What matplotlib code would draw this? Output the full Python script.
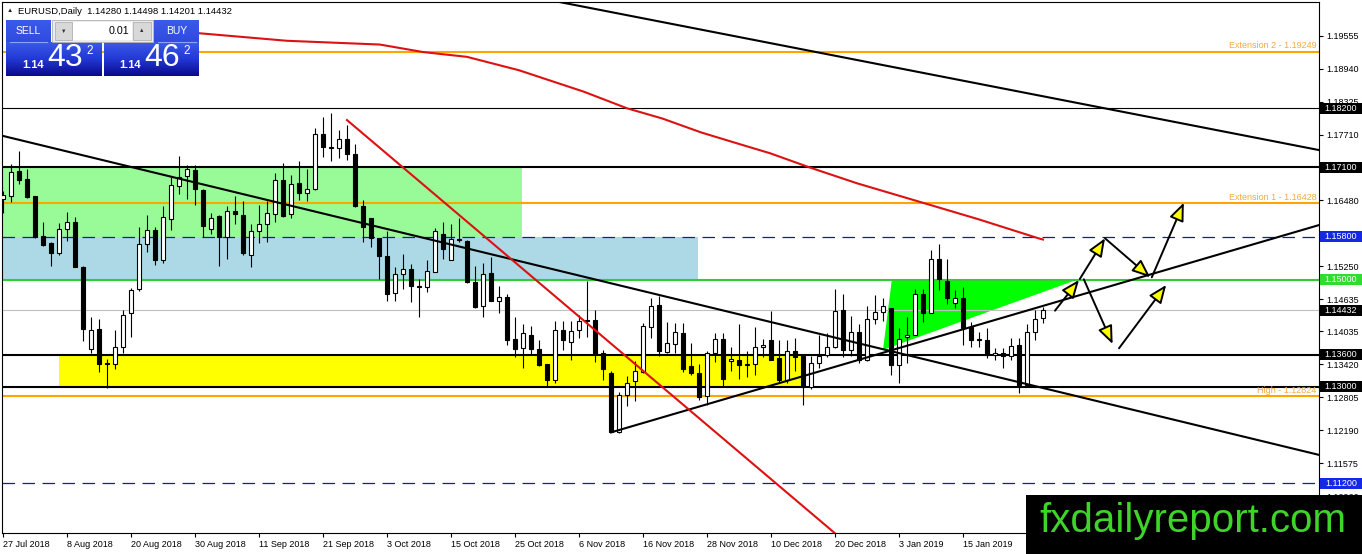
import numpy as np
import matplotlib.pyplot as plt
from matplotlib.patches import Rectangle, Polygon
from matplotlib.colors import LinearSegmentedColormap
import matplotlib.transforms as mtransforms

plt.rcParams['font.family'] = ['Liberation Sans', 'DejaVu Sans']

# daily bars, index 0 = 27 Jul 2018, last = 29 Jan 2019
opens = [1.1650, 1.1656, 1.1703, 1.1688, 1.1656, 1.1581, 1.1568, 1.1549, 1.1594, 1.1608,
         1.1524, 1.1370, 1.1408, 1.1342, 1.1342, 1.1374, 1.1438, 1.1482, 1.1567, 1.1593,
         1.1537, 1.1613, 1.1675, 1.1693, 1.1704, 1.1667, 1.1594, 1.1619, 1.1579, 1.1629,
         1.1620, 1.1546, 1.1590, 1.1604, 1.1623, 1.1687, 1.1622, 1.1681, 1.1662, 1.1669,
         1.1772, 1.1746, 1.1746, 1.1762, 1.1735, 1.1638, 1.1615, 1.1578, 1.1545, 1.1475,
         1.1511, 1.1520, 1.1488, 1.1487, 1.1515, 1.1586, 1.1537, 1.1576, 1.1572, 1.1495,
         1.1450, 1.1512, 1.1461, 1.1467, 1.1389, 1.1372, 1.1397, 1.1370, 1.1343, 1.1312,
         1.1406, 1.1384, 1.1406, 1.1424, 1.1424, 1.1363, 1.1325, 1.1216, 1.1284, 1.1310,
         1.1328, 1.1412, 1.1452, 1.1365, 1.1380, 1.1401, 1.1339, 1.1325, 1.1282, 1.1364,
         1.1390, 1.1349, 1.1351, 1.1341, 1.1343, 1.1374, 1.1388, 1.1353, 1.1313, 1.1367,
         1.1358, 1.1299, 1.1345, 1.1359, 1.1375, 1.1443, 1.1368, 1.1403, 1.1351, 1.1427,
         1.1439, 1.1448, 1.1341, 1.1393, 1.1397, 1.1473, 1.1438, 1.1539, 1.1497, 1.1457,
         1.1465, 1.1412, 1.1390, 1.1388, 1.1360, 1.1364, 1.1358, 1.1378, 1.1303, 1.1403,
         1.14280]
highs = [1.1665, 1.1716, 1.1741, 1.1706, 1.1657, 1.1608, 1.1570, 1.1605, 1.1627, 1.1617,
         1.1525, 1.1430, 1.1426, 1.1352, 1.1407, 1.1443, 1.1484, 1.1599, 1.1621, 1.1599,
         1.1638, 1.1691, 1.1730, 1.1715, 1.1715, 1.1669, 1.1625, 1.1620, 1.1638, 1.1656,
         1.1647, 1.1604, 1.1639, 1.1647, 1.1699, 1.1718, 1.1696, 1.1722, 1.1706, 1.1783,
         1.1803, 1.1811, 1.1780, 1.1789, 1.1753, 1.1648, 1.1616, 1.1578, 1.1591, 1.1523,
         1.1548, 1.1530, 1.1502, 1.1536, 1.1597, 1.1607, 1.1604, 1.1616, 1.1574, 1.1526,
         1.1532, 1.1543, 1.1489, 1.1473, 1.1430, 1.1417, 1.1413, 1.1387, 1.1343, 1.1423,
         1.1423, 1.1423, 1.1434, 1.1498, 1.1444, 1.1369, 1.1329, 1.1291, 1.1320, 1.1348,
         1.1419, 1.1465, 1.1470, 1.1421, 1.1419, 1.1419, 1.1382, 1.1343, 1.1366, 1.1400,
         1.1401, 1.1375, 1.1418, 1.1366, 1.1412, 1.1390, 1.1442, 1.1388, 1.1387, 1.1392,
         1.1358, 1.1357, 1.1396, 1.1400, 1.1482, 1.1473, 1.1433, 1.1418, 1.1451, 1.1471,
         1.1465, 1.1448, 1.1409, 1.1430, 1.1483, 1.1483, 1.1555, 1.1567, 1.1539, 1.1480,
         1.1486, 1.1421, 1.1403, 1.1409, 1.1372, 1.1372, 1.1392, 1.1392, 1.1417, 1.1443,
         1.14498]
lows = [1.1625, 1.1645, 1.1679, 1.1653, 1.1578, 1.1563, 1.1526, 1.1547, 1.1573, 1.1523,
        1.1386, 1.1363, 1.1328, 1.1298, 1.1333, 1.1364, 1.1393, 1.1479, 1.1551, 1.1528,
        1.1532, 1.1593, 1.1660, 1.1650, 1.1640, 1.1580, 1.1586, 1.1526, 1.1539, 1.1604,
        1.1547, 1.1523, 1.1568, 1.1570, 1.1607, 1.1617, 1.1615, 1.1648, 1.1646, 1.1667,
        1.1729, 1.1721, 1.1727, 1.1724, 1.1636, 1.1570, 1.1562, 1.1502, 1.1461, 1.1461,
        1.1483, 1.1458, 1.1430, 1.1477, 1.1514, 1.1539, 1.1537, 1.1570, 1.1493, 1.1448,
        1.1430, 1.1460, 1.1437, 1.1378, 1.1356, 1.1335, 1.1359, 1.1339, 1.1302, 1.1307,
        1.1369, 1.1350, 1.1391, 1.1393, 1.1347, 1.1313, 1.1215, 1.1213, 1.1265, 1.1274,
        1.1326, 1.1392, 1.1358, 1.1363, 1.1363, 1.1327, 1.1322, 1.1275, 1.1266, 1.1347,
        1.1302, 1.1330, 1.1314, 1.1319, 1.1322, 1.1356, 1.1350, 1.1307, 1.1307, 1.1330,
        1.1266, 1.1296, 1.1335, 1.1356, 1.1372, 1.1356, 1.1358, 1.1344, 1.1349, 1.1417,
        1.1423, 1.1322, 1.1308, 1.1344, 1.1396, 1.1421, 1.1437, 1.1481, 1.1455, 1.1448,
        1.1378, 1.1375, 1.1375, 1.1354, 1.1350, 1.1335, 1.1350, 1.1289, 1.1300, 1.1387,
        1.14201]
closes = [1.1658, 1.1701, 1.1687, 1.1655, 1.1580, 1.1565, 1.1549, 1.1594, 1.1608, 1.1524,
          1.1408, 1.1407, 1.1342, 1.1344, 1.1374, 1.1435, 1.1481, 1.1567, 1.1593, 1.1537,
          1.1617, 1.1676, 1.1691, 1.1706, 1.1669, 1.1601, 1.1616, 1.1579, 1.1628, 1.1622,
          1.1550, 1.1591, 1.1604, 1.1624, 1.1687, 1.1619, 1.1679, 1.1662, 1.1669, 1.1772,
          1.1747, 1.1748, 1.1762, 1.1735, 1.1638, 1.1599, 1.1578, 1.1544, 1.1474, 1.1511,
          1.1520, 1.1489, 1.1486, 1.1516, 1.1590, 1.1557, 1.1576, 1.1574, 1.1495, 1.1449,
          1.1511, 1.1461, 1.1467, 1.1387, 1.1370, 1.1400, 1.1370, 1.1341, 1.1313, 1.1406,
          1.1387, 1.1405, 1.1423, 1.1423, 1.1361, 1.1333, 1.1216, 1.1284, 1.1308, 1.1329,
          1.1413, 1.1450, 1.1367, 1.1381, 1.1403, 1.1333, 1.1325, 1.1281, 1.1364, 1.1390,
          1.1314, 1.1352, 1.1341, 1.1342, 1.1374, 1.1378, 1.1351, 1.1313, 1.1366, 1.1356,
          1.1299, 1.1344, 1.1357, 1.1374, 1.1442, 1.1368, 1.1403, 1.1351, 1.1427, 1.1440,
          1.1450, 1.1341, 1.1390, 1.1397, 1.1473, 1.1438, 1.1539, 1.1502, 1.1466, 1.1465,
          1.1409, 1.1388, 1.1388, 1.1360, 1.1364, 1.1357, 1.1377, 1.1303, 1.1403, 1.1426,
          1.14432]

date_ticks = [0, 8, 16, 24, 32, 40, 48, 56, 64, 72, 80, 88, 96, 104, 112, 120]
date_labels = ['27 Jul 2018', '8 Aug 2018', '20 Aug 2018', '30 Aug 2018', '11 Sep 2018',
               '21 Sep 2018', '3 Oct 2018', '15 Oct 2018', '25 Oct 2018', '6 Nov 2018',
               '16 Nov 2018', '28 Nov 2018', '10 Dec 2018', '20 Dec 2018', '3 Jan 2019',
               '15 Jan 2019']
price_ticks = [1.19555, 1.18940, 1.18325, 1.17710, 1.17095, 1.16480, 1.15865, 1.15250,
               1.14635, 1.14035, 1.13420, 1.12805, 1.12190, 1.11575, 1.10960]
# scale labels that sit fully behind a level box on the right scale
hidden_ticks = [1.17095, 1.15865]

# levels drawn on the chart
fib_levels = [1.19249, 1.16428, 1.12824]
fib_names = ['Extension 2', 'Extension 1', 'High']
black_levels = [1.18200, 1.17100, 1.13600, 1.13000]
dashed_levels = [1.15800, 1.11200]
green_level = 1.15000
bid_price = 1.14432

# zones: (first bar, last bar, low price, high price)
green_zone = [-5, 64.9, 1.1580, 1.1710]
blue_zone = [-5, 86.9, 1.1500, 1.1580]
yellow_zone = [7.0, 100.25, 1.1300, 1.1360]
triangle_bars = [111.1, 110.0, 134.25]
triangle_prices = [1.1500, 1.1369, 1.1500]

# trend lines: anchor bars / prices
trend_top_bars = [69.0, 164.5]
trend_top_prices = [1.2020, 1.1742]
trend_down_bars = [-1.0, 164.5]
trend_down_prices = [1.1772, 1.1173]
trend_up_bars = [76.0, 164.5]
trend_up_prices = [1.1215, 1.1602]
red_line_bars = [43.0, 105.0]
red_line_prices = [1.1798, 1.1014]
ma_bars = [24.6, 35.5, 47.1, 52.5, 58.0, 64.5, 68.75, 72.6, 78.0, 82.4, 87.25, 92.1,
           95.9, 100.75, 106.75, 114.9, 121.9, 129.5, 130.0]
ma_prices = [1.1960, 1.1946, 1.1939, 1.1925, 1.1916, 1.1891, 1.1870, 1.1851, 1.1820,
             1.1801, 1.1775, 1.1753, 1.1736, 1.1710, 1.1680, 1.1644, 1.1613, 1.1577, 1.1575]

# projection arrows: start bar, start price, end bar, end price
arrows = [
    (131.5, 1.14422, 134.5, 1.14995),
    (134.6, 1.15013, 137.75, 1.15773),
    (137.75, 1.15773, 143.4, 1.15045),
    (143.6, 1.15045, 147.6, 1.16438),
    (135.1, 1.15008, 138.7, 1.13800),
    (139.5, 1.13720, 145.4, 1.14902),
]

W, H = 1362, 554
fig = plt.figure(figsize=(W / 100, H / 100), dpi=100)
fig.patch.set_facecolor('white')

left_px, right_px, top_px, bottom_px = 2, 1319, 2, 533
ax = fig.add_axes([left_px / W, 1 - bottom_px / H, (right_px - left_px) / W,
                   (bottom_px - top_px) / H])
ax.set_xlim(-0.125, 164.5)
ax.set_ylim(1.10272, 1.20184)
px_price = (1.20184 - 1.10272) / (bottom_px - top_px)

blend = mtransforms.blended_transform_factory(ax.transAxes, ax.transData)

# background zones
for zone, col in [(green_zone, '#98fb98'), (blue_zone, '#add8e6'), (yellow_zone, '#ffff00')]:
    ax.add_patch(Rectangle((zone[0], zone[2]), zone[1] - zone[0], zone[3] - zone[2],
                           facecolor=col, edgecolor='none', zorder=1))
ax.add_patch(Polygon(list(zip(triangle_bars, triangle_prices)), closed=True,
                     facecolor='#00ff00', edgecolor='none', zorder=1.2))

# price levels
lw2 = 1.5
ax.axhline(bid_price, color='#c0c0c0', lw=0.8, zorder=2)
for lvl in fib_levels:
    ax.axhline(lvl, color='#ffa500', lw=lw2, zorder=2)
ax.axhline(black_levels[0], color='black', lw=0.8, zorder=2)
for lvl in black_levels[1:]:
    ax.axhline(lvl, color='black', lw=lw2, zorder=2)
for lvl in dashed_levels:
    ax.axhline(lvl, color='#1a1a9a', lw=0.9, dashes=(10, 6), zorder=2)
ax.axhline(green_level, color='#32cd32', lw=lw2, zorder=2)

# candles
o = np.array(opens)
c = np.array(closes)
x = np.arange(len(o))
up = c >= o
ax.vlines(x, lows, highs, color='black', lw=0.8, zorder=3)
ax.bar(x[up], (c - o)[up], bottom=o[up], width=0.55, color='white',
       edgecolor='black', lw=0.8, zorder=4)
ax.bar(x[~up], (o - c)[~up], bottom=c[~up], width=0.55, color='black',
       edgecolor='black', lw=0.8, zorder=4)

# trend lines
ax.plot(trend_top_bars, trend_top_prices, color='black', lw=lw2, zorder=5)
ax.plot(trend_down_bars, trend_down_prices, color='black', lw=lw2, zorder=5)
ax.plot(trend_up_bars, trend_up_prices, color='black', lw=lw2, zorder=5)
ax.plot(red_line_bars, red_line_prices, color='#dd1111', lw=lw2, zorder=5)
ax.plot(ma_bars, ma_prices, color='#dd1111', lw=lw2, zorder=5, solid_joinstyle='round')

for x0, y0, x1, y1 in arrows:
    ax.annotate('', xy=(x1, y1), xytext=(x0, y0),
                arrowprops=dict(arrowstyle='-|>,head_length=1.1,head_width=0.45',
                                fc='#ffff00', ec='black', lw=1.4,
                                shrinkA=0, shrinkB=0), zorder=6)

# fib labels
for lvl, name in zip(fib_levels, fib_names):
    ax.text(0.998, lvl + 0.0003, f'{name} - {lvl:.5f}', transform=blend,
            ha='right', va='bottom', fontsize=6.5, color='#f5a840', zorder=6)

# axes styling
for sp in ax.spines.values():
    sp.set_linewidth(0.8)
    sp.set_color('black')
ax.yaxis.tick_right()
ax.set_yticks(price_ticks)
ax.set_yticklabels(['' if p in hidden_ticks else f'{p:.5f}' for p in price_ticks])
ax.set_xticks(date_ticks)
ax.set_xticklabels(date_labels, ha='left')
ax.tick_params(axis='y', direction='out', length=3, width=0.8, labelsize=6.5, pad=2)
ax.tick_params(axis='x', direction='out', length=3, width=0.8, labelsize=6.5, pad=2)

# price boxes on right scale
box_levels = black_levels + [dashed_levels[0], green_level, bid_price, dashed_levels[1]]
box_colors = ['black', 'black', 'black', 'black', '#1428e6', '#30dc30', 'black', '#1428e6']
box_w = 42 / (right_px - left_px)
box_h = 11 * px_price
for lvl, col in zip(box_levels, box_colors):
    ax.add_patch(Rectangle((1.0008, lvl - box_h / 2), box_w, box_h, transform=blend,
                           facecolor=col, edgecolor='none', zorder=7, clip_on=False))
    ax.text(1.0008 + box_w / 2, lvl, f'{lvl:.5f}', transform=blend, ha='center',
            va='center', fontsize=6.5, color='white', zorder=8, clip_on=False)

# overlay in pixel space: header, trade panel, watermark
ov = fig.add_axes([0, 0, 1, 1], zorder=10)
ov.set_xlim(0, W)
ov.set_ylim(H, 0)
ov.axis('off')

ov.text(7, 11, '\u25b2', fontsize=4.5, va='center', ha='left', color='#202020')
ov.text(18, 11, 'EURUSD,Daily  1.14280 1.14498 1.14201 1.14432', fontsize=6.8,
        va='center', ha='left', color='black')

blue_cmap = LinearSegmentedColormap.from_list('btn', ['#3a5ae8', '#2238d4', '#0a0a8c'])
grad = np.linspace(0, 1, 64).reshape(-1, 1)
for gx0, gx1 in [(6, 102), (104, 199)]:
    ov.imshow(grad, extent=[gx0, gx1, 76, 42], cmap=blue_cmap, aspect='auto', zorder=1)
for gx0, gx1 in [(6, 51), (154, 199)]:
    ov.imshow(grad[:24] * 0.6, extent=[gx0, gx1, 42, 20], cmap=blue_cmap, aspect='auto',
              zorder=1, vmin=0, vmax=1)
ov.set_xlim(0, W)
ov.set_ylim(H, 0)
ov.plot([10, 47], [41.5, 41.5], color='#8fa0ff', lw=0.8, zorder=2)
ov.plot([158, 196], [41.5, 41.5], color='#8fa0ff', lw=0.8, zorder=2)
ov.text(28.5, 31, 'SELL', fontsize=7.5, color='white', ha='center', va='center', zorder=3)
ov.text(176.5, 31, 'BUY', fontsize=7.5, color='white', ha='center', va='center', zorder=3)

ov.add_patch(Rectangle((52, 20), 101, 22, facecolor='#ececec', edgecolor='#b0b0b0',
                       lw=0.6, zorder=2))
ov.add_patch(Rectangle((55, 22), 17, 18, facecolor='#d8d8d8', edgecolor='#a8a8a8',
                       lw=0.5, zorder=3))
ov.add_patch(Rectangle((133, 22), 18, 18, facecolor='#d8d8d8', edgecolor='#a8a8a8',
                       lw=0.5, zorder=3))
ov.add_patch(Rectangle((73, 22), 59, 18, facecolor='white', edgecolor='none', zorder=3))
ov.text(63.5, 31, '\u25bc', fontsize=4, ha='center', va='center', color='#303030', zorder=4)
ov.text(142, 31, '\u25b2', fontsize=4, ha='center', va='center', color='#303030', zorder=4)
ov.text(129, 31, '0.01', fontsize=7.7, ha='right', va='center', color='black', zorder=4)

for bx, big in [(22, '43'), (119, '46')]:
    ov.text(bx, 64.5, '1.14', fontsize=8, fontweight='bold', color='white',
            ha='left', va='center', zorder=3)
    ov.text(bx + 25, 58.5, big, fontsize=23, color='white', ha='left', va='center', zorder=3)
    ov.text(bx + 64, 51, '2', fontsize=8.5, color='white', ha='left', va='center', zorder=3)

ov.add_patch(Rectangle((1026, 495), W - 1026, H - 495, facecolor='black',
                       edgecolor='none', zorder=2))
ov.text(1193, 521, 'fxdailyreport.com', fontsize=29, color='#3ed42a',
        ha='center', va='center', zorder=3)

fig.savefig('out.png', dpi=100)
